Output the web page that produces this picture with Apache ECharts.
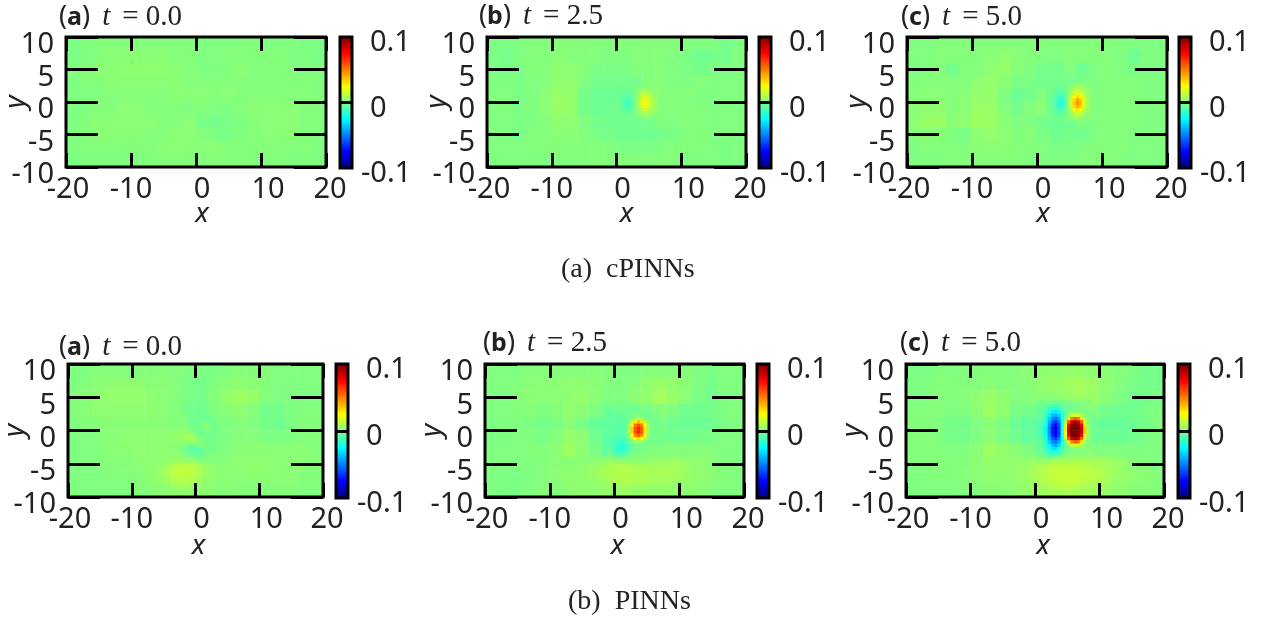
<!DOCTYPE html>
<html><head><meta charset="utf-8"><style>html,body{margin:0;padding:0;background:#fff}#c{width:1265px;height:621px}</style>
<script src="https://cdn.jsdelivr.net/npm/echarts@6/dist/echarts.min.js"></script></head><body><div id="c"></div>
<script>
// field values are in thousandths; rows run y=+9 to y=-9, columns x=-19 to x=19 (2-unit cells)
const fieldA1=[[-1,0,1,1,1,1,1,1,1,1,0,0,0,1,1,0,0,0,-1,-1],[-1,0,1,2,2,2,2,2,1,1,0,0,1,1,1,1,1,0,0,-1],[0,1,2,2,3,3,3,3,2,1,0,0,1,2,1,1,1,0,0,0],[0,1,1,2,2,2,2,2,2,1,1,1,1,1,1,1,1,1,1,0],[0,0,1,1,1,1,1,1,2,2,2,1,2,1,1,1,1,1,1,1],[0,0,1,1,2,2,1,1,1,0,1,0,0,1,2,2,2,2,1,1],[0,1,2,2,2,2,2,1,1,2,-1,-2,-1,0,1,2,2,2,1,1],[0,1,2,2,2,2,1,1,2,2,1,-1,-1,0,1,2,2,2,1,0],[0,1,1,1,1,1,1,2,2,2,2,2,1,1,1,1,1,1,1,0],[-1,0,0,0,0,0,1,1,1,1,1,1,1,1,1,1,1,0,0,0]];
const fieldA2=[[-1,-1,0,1,1,1,1,1,1,1,1,1,1,1,1,0,0,0,-2,0],[-1,-2,0,1,1,2,1,1,1,0,0,1,1,1,0,-1,-3,-2,-2,0],[0,-1,-1,1,1,3,3,1,-1,-1,-1,0,1,1,0,-1,-2,-1,0,0],[0,0,-1,0,1,3,3,0,-2,-2,-2,-2,1,1,0,0,1,0,0,0],[0,1,-1,0,2,5,4,-2,-4,-4,-3,-3,3,1,1,1,0,0,0,0],[0,1,-1,0,2,5,4,-2,-4,-3,-3,-3,3,1,1,1,1,0,0,0],[0,0,-1,0,1,3,3,0,-2,-3,-3,-3,-2,0,0,1,1,0,0,0],[0,0,-1,1,1,2,2,1,-1,-2,-3,-3,-3,-2,-1,1,1,0,0,0],[0,0,0,1,1,1,1,1,1,0,-1,-1,-1,0,1,1,1,0,-1,0],[0,0,0,0,0,0,1,1,1,1,1,1,1,1,1,0,0,0,-1,0]];
const fieldA3=[[0,0,1,1,1,1,1,1,1,1,1,1,1,1,1,1,0,0,0,0],[0,0,1,1,1,1,2,3,2,1,0,0,1,1,1,1,0,-3,0,0],[0,1,1,-2,1,1,3,4,1,0,-2,-2,0,-3,0,1,0,-1,0,0],[1,1,1,1,1,3,4,2,-1,-1,-2,-2,-2,-1,0,1,1,1,0,0],[1,2,2,1,2,4,4,0,-4,-2,1,-2,-2,2,1,1,1,1,0,0],[2,3,3,1,2,5,5,1,-2,1,2,-1,-2,2,1,1,1,1,0,0],[2,5,5,2,3,6,5,2,0,0,-2,-4,-3,-1,0,1,1,1,0,0],[1,2,2,0,-1,3,4,2,1,1,-1,-3,-2,-2,0,1,1,0,0,0],[0,1,1,1,1,2,2,2,1,1,0,-1,-1,0,1,1,1,0,0,0],[0,0,0,1,1,1,1,1,1,0,0,0,0,1,1,1,0,0,0,0]];
const fieldB1=[[0,0,1,1,1,1,1,1,1,0,-1,-1,0,1,1,1,0,0,0,0],[0,1,2,3,3,3,2,2,1,-1,-2,0,2,3,2,1,0,0,0,0],[1,2,3,4,4,4,3,2,1,-1,-2,1,4,6,5,1,0,0,0,0],[1,2,3,3,3,3,3,2,1,-2,-3,0,2,3,1,-2,-2,0,1,1],[0,1,1,2,2,2,2,2,1,-2,-3,-1,0,1,0,-2,-3,-1,1,1],[0,0,1,2,3,3,3,3,4,3,0,-1,0,1,1,0,-1,0,1,1],[0,0,1,2,2,3,3,3,2,-3,-6,-3,0,2,2,2,2,2,2,1],[0,0,1,1,1,2,3,5,9,8,4,1,2,3,4,3,2,2,2,1],[0,0,0,1,1,1,2,6,12,12,7,2,2,2,2,2,2,2,1,1],[0,0,0,0,0,1,1,3,5,5,3,2,1,1,1,1,1,1,0,0]];
const fieldB2=[[0,0,0,1,1,1,1,1,1,1,0,0,1,1,1,1,0,-1,0,0],[0,0,1,2,2,2,3,3,2,1,0,1,3,5,4,2,0,-2,0,0],[0,0,1,2,2,2,3,4,2,0,0,2,4,7,5,2,-1,-2,0,0],[0,0,1,1,0,1,3,2,0,-3,-3,-3,-1,2,0,-3,-3,-2,0,1],[-1,0,0,-1,-2,-1,2,-1,-5,-6,-6,-6,-3,-2,-3,-4,-4,-3,-1,0],[-1,0,0,0,-1,1,4,3,-3,-6,-7,-5,-3,-2,-3,-3,-2,-1,0,0],[0,0,0,1,1,2,6,3,-1,-6,-14,-6,-2,0,1,1,1,1,0,0],[0,0,0,0,1,2,2,2,3,6,2,2,5,7,4,3,2,2,1,0],[0,-1,-1,0,1,2,3,4,8,10,9,8,8,7,5,3,2,2,1,0],[0,-1,-1,0,1,1,2,3,4,5,5,4,4,3,3,2,1,1,0,0]];
const fieldB3=[[-1,-1,0,0,1,1,1,1,1,2,3,3,4,4,3,2,1,0,-2,-2],[-1,0,1,1,1,1,2,1,1,2,3,5,6,7,6,3,1,-1,-2,-2],[0,0,1,1,1,3,5,3,1,1,2,3,5,7,5,2,0,-2,-2,-1],[1,1,1,0,0,2,6,3,-1,-2,-3,-5,-3,0,1,-2,-3,-3,-1,0],[1,1,0,-2,-2,0,2,0,-4,-6,-8,-20,-3,-3,-4,-5,-5,-4,-2,0],[1,1,0,-2,-2,0,2,0,-3,-5,-8,-20,-3,-3,-4,-4,-4,-3,-1,0],[1,1,1,0,0,2,6,4,2,0,-3,-10,-3,-1,0,0,0,0,0,0],[0,1,1,1,1,2,4,4,4,5,5,5,8,9,7,4,3,2,1,0],[0,0,1,1,1,2,3,3,5,9,12,14,14,13,11,7,4,3,2,1],[0,0,0,0,1,1,2,2,3,5,7,8,8,7,6,4,3,2,1,1]];
// one-unit patches over the lower blob of the PINNs panels
const lowerB1={xStart:-7.5,yStart:-4.5,rows:[[3,3,3,4,5,6,6,5,3,1,0,0,1,2,3,3,3,3,3,3,2,2],[3,3,4,6,9,11,12,11,8,5,3,2,2,2,3,3,3,3,3,3,2,2],[3,3,5,8,11,13,13,12,9,6,4,3,2,2,2,2,3,3,3,2,2,2],[2,3,4,6,9,10,10,9,7,5,3,2,2,2,2,2,2,2,2,2,2,2],[2,2,3,4,5,6,6,5,4,3,2,2,2,2,1,1,1,1,1,1,1,1],[1,1,2,2,3,3,3,3,2,2,2,1,1,1,1,1,1,1,1,1,1,1]]};
const lowerB2={xStart:-7.5,yStart:-4.5,rows:[[1,2,2,2,3,3,4,5,5,4,4,4,4,4,5,5,5,6,5,4,3,3],[2,2,3,3,4,5,6,8,9,9,8,7,7,7,7,7,7,7,6,4,3,3],[3,3,3,4,5,6,8,9,10,10,10,9,9,8,8,8,8,7,6,5,4,3],[3,3,3,3,4,5,6,8,9,9,9,8,8,8,7,7,7,6,5,4,3,3],[3,3,3,3,3,4,5,6,6,6,6,6,6,5,5,5,5,4,4,3,3,2],[2,2,3,3,3,3,4,4,4,5,5,4,4,4,4,4,3,3,3,2,2,2]]};
const lowerB3={xStart:-7.5,yStart:-4.5,rows:[[4,4,4,4,4,4,4,5,6,7,8,9,9,9,9,9,9,8,7,6,5,4],[4,4,4,4,4,4,5,6,8,9,11,12,12,12,12,11,10,9,8,7,6,5],[3,3,3,3,4,4,5,7,9,11,13,14,14,14,14,13,12,11,10,8,6,5],[3,3,3,3,3,4,5,6,8,10,12,13,14,14,13,12,11,10,8,7,5,4],[2,2,2,3,3,3,4,5,6,8,9,10,11,11,10,9,8,7,6,5,4,3],[2,2,2,2,2,3,3,4,5,6,7,7,8,8,7,7,6,5,4,4,3,3]]};
// half-unit patches around the soliton cores; xStart/yStart give the first column/row centre
const coreA2={xStart:0.25,yStart:2.25,rows:[[-3,-3,-3,-3,-2,-1,0,1,2,2,2,1,1,1],[-3,-3,-4,-4,-3,-1,1,4,6,6,5,3,2,1],[-3,-4,-5,-6,-5,-2,3,8,11,11,8,5,2,1],[-3,-4,-6,-8,-7,-3,4,12,17,16,12,6,3,1],[-3,-5,-8,-11,-10,-3,6,16,21,20,14,7,3,1],[-3,-5,-9,-13,-11,-3,6,16,22,21,15,8,3,1],[-3,-5,-8,-11,-9,-3,5,14,20,19,13,7,3,1],[-3,-4,-6,-8,-6,-2,3,10,14,13,9,5,2,1],[-3,-4,-4,-5,-4,-1,2,5,7,7,5,3,2,1],[-3,-3,-3,-3,-2,-1,0,2,3,3,3,2,1,1]]};
const coreA3={xStart:1.75,yStart:2.75,rows:[[-2,-2,-3,-3,-3,-2,-1,0,2,3,3,2,1,0,0,0],[-2,-3,-3,-4,-4,-3,-1,2,5,7,6,4,2,1,0,0],[-2,-3,-4,-6,-6,-4,0,5,10,13,11,7,3,1,1,0],[-3,-3,-5,-8,-9,-7,0,8,16,21,18,11,5,2,1,0],[-3,-4,-6,-11,-13,-9,0,12,25,33,27,16,7,3,1,0],[-3,-4,-8,-14,-17,-12,1,15,33,43,36,20,8,3,1,0],[-3,-4,-8,-15,-18,-13,1,16,35,46,38,21,9,3,1,0],[-3,-4,-8,-13,-16,-11,1,14,31,41,34,18,8,3,1,0],[-3,-3,-6,-10,-11,-8,0,10,22,29,24,13,6,2,1,0],[-2,-3,-5,-7,-7,-5,0,6,13,17,14,8,4,2,1,0],[-2,-3,-4,-4,-5,-3,0,3,6,8,7,4,2,1,0,0],[-2,-2,-3,-3,-3,-2,-1,1,3,4,4,2,1,1,0,0]]};
const coreB1={xStart:-2.75,yStart:2.25,rows:[[1,1,0,-1,-2,-2,-3,-3,-3,-3,-2,-1,0,0],[1,1,0,-1,-2,-3,-3,-4,-4,-4,-4,-2,0,0],[1,1,0,-1,-2,-3,-4,-3,-2,-2,-3,-3,-1,0],[1,1,1,0,-1,-3,-4,-1,2,3,0,-3,-2,-1],[2,2,2,1,0,-2,-4,-2,1,2,0,-3,-2,-1],[3,3,3,3,2,0,-3,-4,-3,-2,-3,-3,-2,-1],[4,5,6,7,7,5,1,-2,-3,-3,-3,-3,-2,-1],[4,5,6,8,9,8,5,1,-1,-2,-2,-2,-2,-1],[3,4,3,3,4,4,3,2,0,-1,-2,-2,-1,-1],[2,2,0,-2,-3,-3,-2,-1,-1,-2,-2,-2,-1,0],[2,1,-2,-5,-7,-7,-6,-5,-4,-3,-3,-2,-1,0],[2,1,-1,-4,-6,-7,-7,-6,-5,-4,-2,-1,0,0],[3,2,1,0,-2,-3,-4,-3,-2,-1,0,0,1,1],[5,4,4,3,2,1,0,0,1,1,1,1,1,1]]};
const coreB2={xStart:-0.75,yStart:2.75,rows:[[-6,-5,-4,-4,-4,-3,-3,-3,-3,-3,-3,-3,-2,-2,-2,-2],[-6,-6,-5,-5,-5,-4,-4,-3,-1,0,-1,-3,-3,-2,-2,-2],[-6,-6,-6,-6,-6,-5,-3,2,7,10,8,2,-2,-2,-2,-2],[-6,-6,-6,-7,-7,-6,0,14,30,38,30,12,1,-2,-2,-2],[-6,-6,-7,-7,-7,-5,4,27,52,60,50,24,4,-2,-2,-2],[-6,-7,-7,-7,-8,-5,6,34,60,68,58,30,6,-2,-2,-2],[-6,-7,-7,-8,-8,-5,6,34,60,68,58,30,6,-2,-2,-2],[-6,-7,-8,-9,-9,-6,3,26,50,58,48,22,4,-2,-2,-2],[-7,-8,-9,-11,-11,-8,-1,12,26,32,26,10,1,-2,-2,-2],[-7,-9,-11,-13,-14,-11,-6,1,5,8,6,1,-2,-2,-2,-2],[-7,-10,-13,-16,-17,-14,-9,-5,-3,-2,-2,-2,-2,-1,-1,-1],[-6,-10,-14,-17,-18,-15,-10,-6,-3,-2,-1,-1,-1,0,0,0],[-4,-8,-12,-14,-14,-11,-7,-4,-2,-1,0,0,0,0,1,1],[-1,-4,-6,-7,-7,-5,-3,-1,0,0,1,1,1,2,2,2],[2,1,0,-1,-1,0,0,1,1,2,2,2,3,3,3,3],[6,6,5,5,4,4,4,4,4,4,4,4,4,4,5,5]]};
const coreB3={xStart:0.25,yStart:4.75,rows:[[1,1,2,2,2,2,2,2,3,3,3,3,3,4,4,4,4,4],[-1,-1,-1,-2,-3,-3,-3,-3,-2,-1,0,0,1,1,2,2,2,2],[-3,-3,-4,-6,-8,-9,-9,-8,-6,-4,-3,-2,-2,-1,0,1,1,1],[-4,-4,-6,-9,-14,-18,-18,-15,-9,-5,-3,-3,-2,-2,-1,0,0,0],[-4,-5,-7,-12,-20,-27,-29,-24,-13,-6,-2,0,1,1,0,-1,-1,-1],[-5,-5,-8,-15,-27,-38,-41,-34,-18,-6,5,14,18,16,9,2,-1,-2],[-5,-6,-9,-18,-33,-48,-52,-44,-21,0,30,50,58,52,30,8,0,-2],[-6,-7,-10,-21,-39,-58,-64,-52,-24,10,58,85,92,86,58,18,2,-2],[-6,-8,-12,-24,-44,-66,-74,-60,-24,20,75,98,100,98,76,28,5,-2],[-7,-9,-14,-27,-48,-71,-81,-64,-22,28,84,100,100,100,86,36,7,-2],[-7,-9,-14,-27,-48,-71,-82,-65,-22,28,84,100,100,100,86,36,7,-2],[-6,-8,-12,-24,-44,-66,-75,-60,-24,20,76,98,100,98,76,28,5,-2],[-6,-7,-10,-21,-40,-58,-64,-52,-24,10,58,85,92,86,58,18,2,-2],[-5,-6,-9,-18,-34,-48,-52,-42,-21,0,30,50,58,52,30,8,1,-1],[-5,-5,-8,-15,-27,-38,-42,-32,-16,-5,5,14,18,16,9,3,0,0],[-4,-5,-7,-13,-21,-29,-30,-22,-11,-5,-1,1,2,2,1,1,1,1],[-3,-4,-6,-10,-15,-19,-19,-13,-7,-3,-1,1,1,1,2,2,2,2],[-1,-2,-4,-6,-9,-11,-10,-7,-3,-1,1,2,2,3,3,3,3,3],[2,2,2,2,2,3,4,5,6,6,6,6,6,6,6,6,6,6],[3,4,5,5,6,7,8,8,9,9,9,9,9,9,9,9,8,8]]};
const barTicks=[-0.1,0,0.1];
const captions=['(a)  cPINNs','(b)  PINNs'];
const jet=['#00007f','#0000ff','#007fff','#00ffff','#80ff80','#ffff00','#ff7f00','#ff0000','#7f0000'];

const panels=[
 {l:66,t:37,w:260,h:130,bar:340,lab:'a',time:'0.0',tx:59,ty:3,xn:6,yg:36,xg:33,field:fieldA1,lower:null,core:null},
 {l:487,t:37,w:259,h:130,bar:759,lab:'b',time:'2.5',tx:479,ty:2,xn:10,yg:36,xg:33,field:fieldA2,lower:null,core:coreA2},
 {l:907,t:37,w:260,h:130,bar:1179,lab:'c',time:'5.0',tx:901,ty:3,xn:6,yg:36,xg:33,field:fieldA3,lower:null,core:coreA3},
 {l:65,t:364,w:258,h:133,bar:336,lab:'a',time:'0.0',tx:59,ty:333,xn:3,yg:39,xg:35,field:fieldB1,lower:lowerB1,core:coreB1},
 {l:485,t:364,w:259,h:133,bar:757,lab:'b',time:'2.5',tx:483,ty:329,xn:3,yg:39,xg:35,field:fieldB2,lower:lowerB2,core:coreB2},
 {l:906,t:364,w:258,h:133,bar:1178,lab:'c',time:'5.0',tx:900,ty:329,xn:8,yg:39,xg:35,field:fieldB3,lower:lowerB3,core:coreB3}
];
const FONT='"Noto Sans"';
const coarseX=[],coarseY=[],midX=[],midY=[],fineX=[],fineY=[];
for(let i=0;i<20;i++)coarseX.push(-19+2*i);
for(let i=0;i<10;i++)coarseY.push(-9+2*i);
for(let i=0;i<40;i++)midX.push(-19.5+i);
for(let i=0;i<20;i++)midY.push(-9.5+i);
for(let i=0;i<80;i++)fineX.push(-19.75+0.5*i);
for(let i=0;i<40;i++)fineY.push(-9.75+0.5*i);
const xShift={'-20':2,'-10':0,'0':6,'10':7,'20':4};
const grids=[],xAxes=[],yAxes=[],series=[],vms=[],titles=[];
const TS=29;
const nameStyle={color:'#222',fontFamily:FONT,fontSize:28,fontStyle:'italic'};
const noLine={show:false,onZero:false};
panels.forEach((p)=>{
  const g=grids.length;
  grids.push({left:p.l,top:p.t,width:p.w,height:p.h,show:true,z:10,borderColor:'#000',borderWidth:3,backgroundColor:'transparent'});
  const tick=(len)=>({show:true,inside:true,length:len,lineStyle:{color:'#000',width:3}});
  const cx=xAxes.length;
  xAxes.push({gridIndex:g,type:'category',show:false,data:coarseX});
  xAxes.push({gridIndex:g,type:'category',show:false,data:midX});
  xAxes.push({gridIndex:g,type:'category',show:false,data:fineX});
  xAxes.push({gridIndex:g,type:'value',position:'bottom',min:-20,max:20,interval:10,z:11,splitLine:{show:false},axisLine:noLine,axisTick:tick(14),
    name:'x',nameLocation:'middle',nameGap:p.xg,nameMoveOverlap:false,nameTextStyle:Object.assign({padding:[0,0,0,2*p.xn]},nameStyle),
    axisLabel:{margin:8,hideOverlap:false,showMinLabel:true,showMaxLabel:true,color:'#222',fontFamily:FONT,fontSize:TS,
      formatter:(v)=>'{s'+xShift[v]+'|'+v+'}',
      rich:Object.fromEntries(Object.values(xShift).map(s=>['s'+s,{padding:[0,0,0,2*s],fontFamily:FONT,fontSize:TS,color:'#222'}]))}});
  xAxes.push({gridIndex:g,type:'value',position:'top',min:-20,max:20,interval:10,z:11,splitLine:{show:false},axisLine:noLine,axisTick:tick(14),axisLabel:{show:false}});
  const cy=yAxes.length;
  yAxes.push({gridIndex:g,type:'category',show:false,data:coarseY});
  yAxes.push({gridIndex:g,type:'category',show:false,data:midY});
  yAxes.push({gridIndex:g,type:'category',show:false,data:fineY});
  yAxes.push({gridIndex:g,type:'value',position:'left',min:-10,max:10,interval:5,z:11,splitLine:{show:false},axisLine:noLine,axisTick:tick(32),
    name:'y',nameLocation:'middle',nameGap:p.yg,nameRotate:90,nameMoveOverlap:false,nameTextStyle:nameStyle,
    axisLabel:{margin:12,hideOverlap:false,color:'#222',fontFamily:FONT,fontSize:TS,formatter:(v)=>'{v|'+v+'}',
      rich:{v:{padding:[16,0,0,0],fontFamily:FONT,fontSize:TS,color:'#222'}}}});
  yAxes.push({gridIndex:g,type:'value',position:'right',min:-10,max:10,interval:5,z:11,splitLine:{show:false},axisLine:noLine,axisTick:tick(32),axisLabel:{show:false}});
  const sIdx=[series.length];
  const coarseData=[];
  p.field.forEach((row,r)=>row.forEach((v,i)=>coarseData.push([i,9-r,v/1000])));
  series.push({type:'heatmap',xAxisIndex:cx,yAxisIndex:cy,data:coarseData,silent:true,z:2,progressive:0,animation:false});
  const addPatch=(patch,cats,catsY,axisOffset,z)=>{
    const cells=[];
    const x0=cats.indexOf(patch.xStart),y0=catsY.indexOf(patch.yStart);
    patch.rows.forEach((row,r)=>row.forEach((v,i)=>cells.push([x0+i,y0-r,v/1000])));
    sIdx.push(series.length);
    series.push({type:'heatmap',xAxisIndex:cx+axisOffset,yAxisIndex:cy+axisOffset,data:cells,silent:true,z:z,progressive:0,animation:false});
  };
  if(p.lower)addPatch(p.lower,midX,midY,1,3);
  if(p.core)addPatch(p.core,fineX,fineY,2,4);
  // colour bar
  const gb=grids.length;
  grids.push({left:p.bar,top:p.t,width:12,height:p.h+1,show:true,z:10,borderColor:'#000',borderWidth:3,backgroundColor:'transparent'});
  xAxes.push({gridIndex:gb,type:'value',show:false,min:0,max:1});
  yAxes.push({gridIndex:gb,type:'value',position:'right',min:barTicks[0],max:barTicks[2],interval:0.1,z:11,splitLine:{show:false},axisLine:noLine,
    axisTick:{show:true,inside:true,length:12,lineStyle:{color:'#000',width:3},customValues:[0]},
    axisLabel:{margin:9,padding:[12,0,0,0],align:'left',hideOverlap:false,customValues:barTicks,color:'#222',fontFamily:FONT,fontSize:TS,
      formatter:(v)=>v<0?'{m|'+v+'}':'{n|'+v+'}',
      rich:{m:{fontFamily:FONT,fontSize:TS,color:'#222'},n:{padding:[0,0,0,9],fontFamily:FONT,fontSize:TS,color:'#222'}}}});
  vms.push({type:'continuous',show:true,calculable:false,hoverLink:false,min:-0.1,max:0.1,dimension:2,seriesIndex:sIdx,
    left:p.bar,top:p.t,itemWidth:12,itemHeight:p.h+1,padding:0,showLabel:false,text:null,inRange:{color:jet}});
  titles.push({left:p.tx,top:p.ty,padding:0,text:'{p|(}{b|'+p.lab+'}{p|)}{g| }{t|t}{h| }{n|= '+p.time+'}',
    textStyle:{fontWeight:'normal',rich:{p:{fontFamily:FONT,fontWeight:'normal',fontSize:27,color:'#222'},b:{fontFamily:FONT,fontSize:25,fontWeight:'bold',color:'#222'},g:{fontSize:10,width:12},h:{fontSize:10,width:12},
      t:{fontFamily:'"Liberation Serif"',fontStyle:'italic',fontWeight:'normal',fontSize:29,color:'#222'},n:{fontFamily:'"Liberation Serif"',fontWeight:'normal',fontSize:29,color:'#222'}}}});
});
titles.push({left:561,top:256,padding:0,text:captions[0],textStyle:{fontFamily:'"Liberation Serif"',fontWeight:'normal',fontSize:28,color:'#222'}});
titles.push({left:568,top:588,padding:0,text:captions[1],textStyle:{fontFamily:'"Liberation Serif"',fontWeight:'normal',fontSize:28,color:'#222'}});
const chart=echarts.init(document.getElementById('c'),null,{renderer:'canvas'});
chart.setOption({animation:false,backgroundColor:'#fff',title:titles,grid:grids,xAxis:xAxes,yAxis:yAxes,visualMap:vms,series:series});
</script></body></html>
